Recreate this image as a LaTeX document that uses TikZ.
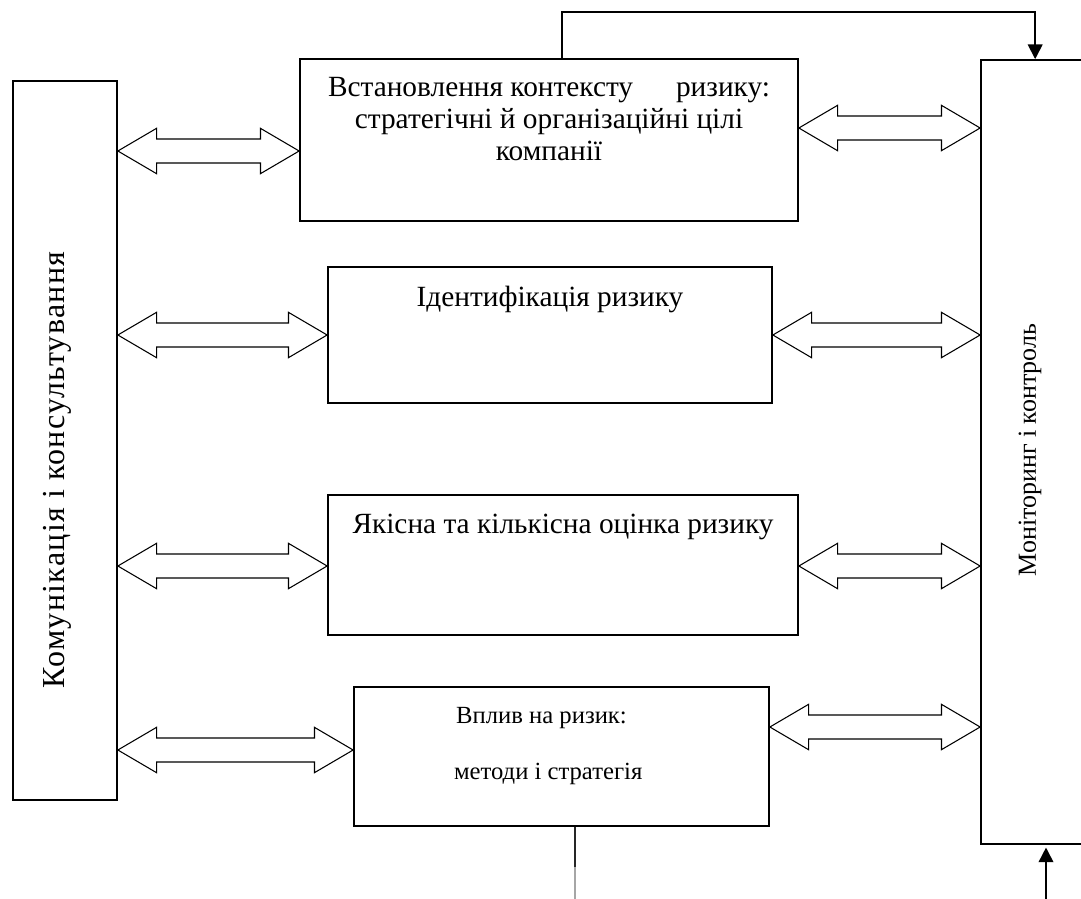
\documentclass[tikz,border=0pt]{standalone}
\usepackage{fontspec}
\setmainfont{Liberation Serif}
\newfontfamily\spacedfont[LetterSpace=4]{Liberation Serif}
\usetikzlibrary{calc,positioning,arrows.meta}
\newcommand{\twoway}[3]{%
	\draw[twoway] let \p1=(#1), \p2=(#2), \p3=(0,#3) in
		(\x1,\y3)--(\x1+29pt,\y3+17pt)--(\x1+29pt,\y3+9pt)--(\x2-29pt,\y3+9pt)--(\x2-29pt,\y3+17pt)
		--(\x2,\y3)--(\x2-29pt,\y3-17pt)--(\x2-29pt,\y3-9pt)--(\x1+29pt,\y3-9pt)--(\x1+29pt,\y3-17pt)--cycle;}
\begin{document}
\begin{tikzpicture}[x=0.75pt,y=-0.75pt,line join=miter,
	box/.style={draw,line width=1.3pt,inner sep=0pt},
	txt/.style={inner sep=0pt,align=center,font=\fontsize{22}{24}\selectfont},
	twoway/.style={line width=0.8pt},
	fb/.style={line width=1.3pt,-{Triangle[length=11pt,width=11pt]}}]
		\useasboundingbox (0,0) rectangle (1081,899);
		\clip (0,0) rectangle (1081,899);
		\node[box,minimum width=373.5pt,minimum height=121.5pt] (ctx) at (549,140) {};
		\node[box,minimum width=333pt,minimum height=102pt] (ident) at (550,335) {};
		\node[box,minimum width=352.5pt,minimum height=105pt] (eval) at (563,565) {};
		\node[box,minimum width=311.25pt,minimum height=104.25pt] (treat) at (561.5,756.5) {};
		\node[box,minimum width=78pt,minimum height=539.25pt] (kom) at (65,440.5) {};
		\node[box,minimum width=89.25pt,minimum height=588pt] (mon) at (1040.5,452) {};
		\node[txt,below=14.5pt of ctx.north] (ctxtxt) {\makebox[331.5pt]{Встановлення контексту\hfill ризику:}\\стратегічні й організаційні цілі\\компанії};
		\node[txt,below=14.5pt of ident.north] (identtxt) {Ідентифікація ризику};
		\node[txt,below=14.5pt of eval.north] (evaltxt) {Якісна та кількісна оцінка ризику};
		\node[txt,font=\fontsize{18.5}{24}\selectfont,below=16pt of treat.north,xshift=-10pt] (treattxt) {Вплив на ризик:\hspace*{10pt}\\[18pt]методи і стратегія};
		\node[txt,font=\fontsize{24}{24}\spacedfont,rotate=90] (komtxt) at (57,470) {Комунікація і консультування};
		\node[txt,font=\fontsize{19.5}{24}\selectfont,rotate=90] (montxt) at (1030,450) {Моніторинг і контроль};
		\twoway{kom.east}{ctx.west}{151}
		\twoway{ctx.east}{mon.west}{128}
		\twoway{kom.east}{ident.west}{335}
		\twoway{ident.east}{mon.west}{335}
		\twoway{kom.east}{eval.west}{566}
		\twoway{eval.east}{mon.west}{566}
		\twoway{kom.east}{treat.west}{750}
		\twoway{treat.east}{mon.west}{727}
		\draw[fb] ([xshift=10pt]ctx.north)--++(0,-46)-|([xshift=-4pt]mon.north);
		\coordinate (tail) at (575,899);
		\coordinate (inlet) at (1046,899);
		\draw[line width=1pt,black!85] (treat.south -| tail)--++(0,40);
		\draw[line width=1pt,gray!70] ([yshift=-30pt]treat.south -| tail)--(tail);
		\draw[fb,shorten >=2pt] (inlet)--(inlet |- mon.south);
	\end{tikzpicture}
\end{document}
